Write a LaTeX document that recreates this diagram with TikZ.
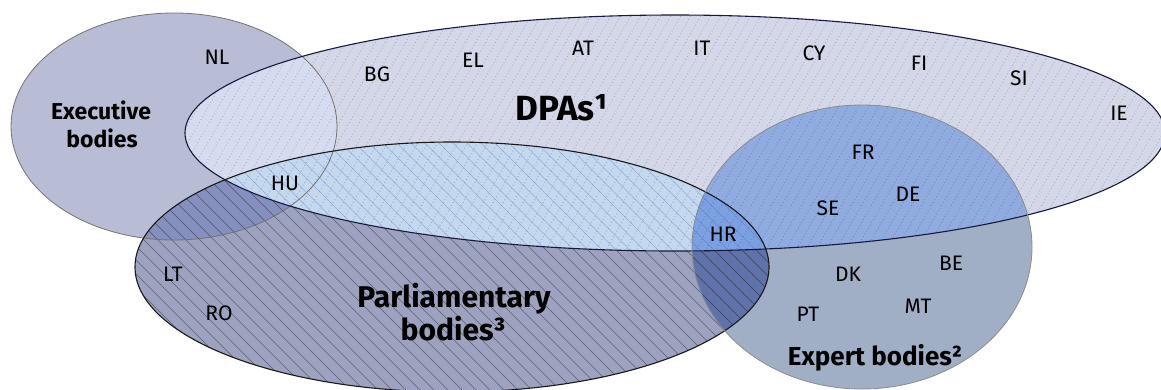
\documentclass[tikz,border=0pt]{standalone}
\usepackage{fontspec}
\setmainfont{Fira Sans}
\definecolor{cExec}{HTML}{B8BDD5}
\definecolor{cDPA}{HTML}{D4D7E8}
\definecolor{cParl}{HTML}{9CA2C0}
\definecolor{cExp}{HTML}{A0AEC6}
\definecolor{cExecDPA}{HTML}{D6DCEF}
\definecolor{cExecParl}{HTML}{8690BE}
\definecolor{cDPAParl}{HTML}{C4D8EE}
\definecolor{cExpDPA}{HTML}{8FABDF}
\definecolor{cExpParl}{HTML}{6072AA}
\definecolor{cTriple}{HTML}{7CA1E2}
\definecolor{cHatchBlue}{HTML}{3A50A0}
\definecolor{cNavy}{HTML}{141A3C}
% the four sets
\def\pExec{(174,126.5) ellipse [x radius=163pt, y radius=113.5pt]}
\def\pDPA{(675,133) ellipse [x radius=490pt, y radius=118pt]}
\def\pParl{(452,267) ellipse [x radius=317pt, y radius=125pt]}
\def\pExp{(862,247) ellipse [x radius=170pt, y radius=142pt]}
\begin{document}
\begin{tikzpicture}[x=1pt,y=-1pt,
  country/.style={anchor=base, inner sep=0pt, font=\fontsize{21}{24}\selectfont},
  setlabel/.style={anchor=base, inner sep=0pt, font=\bfseries\fontsize{#1}{#1}\selectfont},
  dpahatch/.style={black, opacity=0.22, line width=0.8pt, dash pattern=on 0.9pt off 2.4pt},
  parlhatch/.style={black, opacity=0.42, line width=0.6pt},
  parlhatchlight/.style={cHatchBlue, opacity=0.32, line width=0.6pt},
  execline/.style={draw=black!55, line width=0.8pt},
  dpaline/.style={draw=cNavy, line width=1.1pt},
  parlline/.style={draw=black!90, line width=1.1pt},
  expline/.style={draw=black!45, line width=0.8pt}]
\useasboundingbox (0,0) rectangle (1161,389);

% base fills
\fill[cExec] \pExec;
\fill[cDPA] \pDPA;
\fill[cParl] \pParl;
\fill[cExp] \pExp;

% overlaps
\begin{scope}\clip \pExec; \fill[cExecDPA] \pDPA; \end{scope}
\begin{scope}\clip \pExec; \fill[cExecParl] \pParl; \end{scope}
\begin{scope}\clip \pDPA; \fill[cDPAParl] \pParl; \end{scope}
\begin{scope}\clip \pExp; \fill[cExpDPA] \pDPA; \end{scope}
\begin{scope}\clip \pExp; \fill[cExpParl] \pParl; \end{scope}
\begin{scope}\clip \pExp; \clip \pDPA; \fill[cTriple] \pParl; \end{scope}

% dotted hatching of the DPA set
\begin{scope}
  \clip \pDPA;
  \foreach \i in {20,30,...,1190}
    \draw[dpahatch] (\i,260) -- ++(150,-260);
\end{scope}

% line hatching of the parliamentary set
\begin{scope}
  \clip \pParl;
  \begin{scope}[even odd rule]
    \clip (-20,-20) rectangle (1200,420) \pDPA;
    \foreach \i in {-140,-126,...,790}
      \draw[parlhatch] (\i,138) -- ++(260,260);
  \end{scope}
\end{scope}
\begin{scope}
  \clip \pParl;
  \clip \pDPA;
  \foreach \i in {-140,-126,...,790}
    \draw[parlhatchlight] (\i,138) -- ++(260,260);
\end{scope}

% outlines
\draw[execline] \pExec;
\draw[dpaline] \pDPA;
\draw[parlline] \pParl;
\draw[expline] \pExp;

% set titles
\node[setlabel=23] (exec1) at (101,119) {Executive};
\node[setlabel=23] (exec2) at (102,147) {bodies};
\node[setlabel=35] (dpa) at (562,120) {DPAs¹};
\node[setlabel=30] (parl1) at (454,307) {Parliamentary};
\node[setlabel=30] (parl2) at (453,340) {bodies³};
\node[setlabel=26] (exp) at (875,365) {Expert bodies²};

% countries
\node[country] (NL) at (217,64) {NL};
\node[country] (BG) at (377,81) {BG};
\node[country] (EL) at (473,67) {EL};
\node[country] (AT) at (583,55) {AT};
\node[country] (IT) at (702,55) {IT};
\node[country] (CY) at (814,60) {CY};
\node[country] (FI) at (919,70) {FI};
\node[country] (SI) at (1019,85) {SI};
\node[country] (IE) at (1119,120) {IE};
\node[country] (HU) at (285,190) {HU};
\node[country] (FR) at (863,159) {FR};
\node[country] (SE) at (828,215) {SE};
\node[country] (DE) at (908,201) {DE};
\node[country] (HR) at (723,241) {HR};
\node[country] (LT) at (173,281) {LT};
\node[country] (RO) at (219,320) {RO};
\node[country] (DK) at (848,281) {DK};
\node[country] (BE) at (951,270) {BE};
\node[country] (PT) at (808,321) {PT};
\node[country] (MT) at (918,313) {MT};
\end{tikzpicture}
\end{document}
